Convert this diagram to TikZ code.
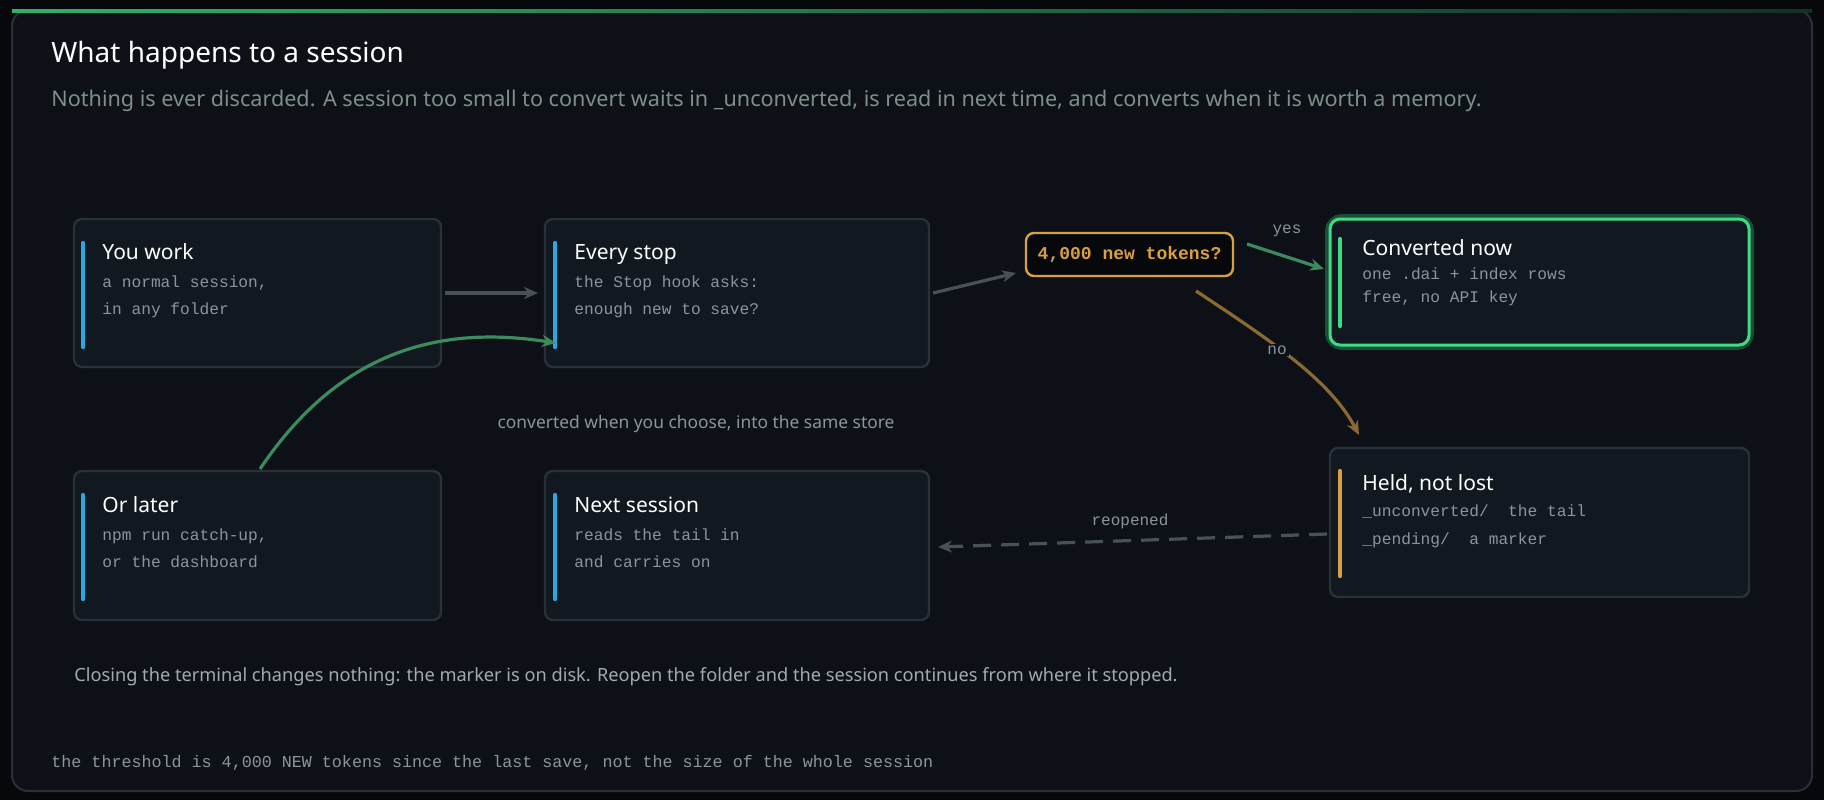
\documentclass[tikz,border=0pt]{standalone}
\usepackage{fontspec}
\setmainfont{Noto Sans}
\setmonofont{Liberation Mono}
\usetikzlibrary{arrows.meta}
\definecolor{bg}{HTML}{0D1117}
\definecolor{outer}{HTML}{06080C}
\definecolor{boxf}{HTML}{111820}
\definecolor{boxd}{HTML}{2A3038}
\definecolor{blu}{HTML}{2AA8E0}
\definecolor{grn}{HTML}{3DDC84}
\definecolor{dgrn}{HTML}{3C8A5E}
\definecolor{org}{HTML}{D9A040}
\definecolor{dorg}{HTML}{8A6A30}
\definecolor{gtxt}{HTML}{8B949E}
\definecolor{sub}{HTML}{7D8F88}
\definecolor{arr}{HTML}{48505A}
\begin{document}
\begin{tikzpicture}[x=0.5pt,y=-0.5pt,
  box/.style={draw=boxd,line width=1.2pt,fill=boxf,rounded corners=4pt},
  bar/.style={line width=2.2pt,line cap=round},
  ttl/.style={anchor=base west,inner sep=0,text=white,font=\fontsize{10.5}{12}\selectfont},
  mono/.style={anchor=base west,inner sep=0,text=gtxt,font=\ttfamily\fontsize{8.1}{10}\selectfont},
  lab/.style={inner sep=0,text=gtxt,font=\ttfamily\fontsize{8}{10}\selectfont},
  ar/.style={line width=1.6pt,-{Stealth[length=7pt,width=6pt]}}]
\useasboundingbox (0,0) rectangle (1824,800);
\fill[outer] (0,0) rectangle (1824,800);
\fill[bg,draw=boxd,line width=1pt,rounded corners=8pt] (12,10) rectangle (1812,791);
\shade[left color=grn!80!black,right color=grn!15!bg] (12,9) rectangle (1812,12);
\node[anchor=base west,inner sep=0,text=white,font=\fontsize{14}{16}\selectfont] (title) at (51,62) {What happens to a session};
\node[anchor=base west,inner sep=0,text=sub,font=\fontsize{10.8}{12}\selectfont] (subtitle) at (51,106) {Nothing is ever discarded. A session too small to convert waits in \_unconverted, is read in next time, and converts when it is worth a memory.};
% boxes
\draw[box] (74,219) rectangle (441,367);
\draw[box] (545,219) rectangle (929,367);
\draw[box] (74,471) rectangle (441,620);
\draw[box] (545,471) rectangle (929,620);
\draw[grn!30!bg,line width=5pt,rounded corners=6pt] (1330,219) rectangle (1749,345);
\draw[grn,line width=1.5pt,fill=boxf,rounded corners=5pt] (1330,219) rectangle (1749,345);
\draw[box] (1330,448) rectangle (1749,597);
\draw[bar,blu] (83,243)--(83,347);
\draw[bar,blu] (555,243)--(555,347);
\draw[bar,blu] (83,495)--(83,599);
\draw[bar,blu] (555,495)--(555,599);
\draw[bar,grn] (1340,239)--(1340,326);
\draw[bar,org] (1340,471)--(1340,576);
\node[ttl] (t1) at (102,259) {You work};
\node[mono] (m1a) at (102,287) {a normal session,};
\node[mono] (m1b) at (102,314) {in any folder};
\node[ttl] (t2) at (574,259) {Every stop};
\node[mono] (m2a) at (574,287) {the Stop hook asks:};
\node[mono] (m2b) at (574,314) {enough new to save?};
\node[ttl] (t3) at (102,512) {Or later};
\node[mono] (m3a) at (102,540) {npm run catch-up,};
\node[mono] (m3b) at (102,567) {or the dashboard};
\node[ttl] (t4) at (574,512) {Next session};
\node[mono] (m4a) at (574,540) {reads the tail in};
\node[mono] (m4b) at (574,567) {and carries on};
\node[ttl] (t5) at (1362,255) {Converted now};
\node[mono] (m5a) at (1362,279) {one .dai + index rows};
\node[mono] (m5b) at (1362,302) {free, no API key};
\node[ttl] (t6) at (1362,490) {Held, not lost};
\node[mono] (m6a) at (1362,516) {\_unconverted/~ the tail};
\node[mono] (m6b) at (1362,544) {\_pending/~ a marker};
% decision
\node[draw=org,line width=1.2pt,fill=outer,rounded corners=4pt,text=org,font=\ttfamily\bfseries\fontsize{9}{10}\selectfont,minimum width=207*0.5pt,minimum height=43*0.5pt] (dec) at (1129.5,254.5) {4,000 new tokens?};
% coordinates
\coordinate (a1s) at (445,293); \coordinate (a1e) at (538,293);
\coordinate (a2s) at (933,293); \coordinate (a2e) at (1016,273);
\coordinate (ys) at (1247,244); \coordinate (ye) at (1324,269);
\coordinate (ns) at (1196,291); \coordinate (ne) at (1359,435);
\coordinate (rs) at (1327,534); \coordinate (re) at (938,547);
\coordinate (gs) at (260,469); \coordinate (ge) at (556,343);
\draw[ar,arr] (a1s)--(a1e);
\draw[ar,arr] (a2s)--(a2e);
\draw[ar,dgrn] (ys)--(ye);
\draw[ar,dorg] (ns) .. controls (1270,340) and (1330,380) .. (ne);
\draw[ar,arr,dash pattern=on 9pt off 5pt] (rs)--(re);
\draw[ar,dgrn] (gs) .. controls (340,350) and (440,325) .. (ge);
\node[lab] (ly) at (1287,231) {yes};
\node[lab,fill=bg,inner sep=1pt] (ln) at (1277,350) {no};
\node[lab] (lr) at (1130,521) {reopened};
\node[inner sep=0,text=gtxt,font=\fontsize{8.7}{10}\selectfont] (lc) at (696,424) {converted when you choose, into the same store};
\node[anchor=base west,inner sep=0,text=gtxt!80!white,font=\fontsize{9.1}{10}\selectfont] (foot) at (74,681) {Closing the terminal changes nothing: the marker is on disk. Reopen the folder and the session continues from where it stopped.};
\node[anchor=base west,inner sep=0,text=gtxt,font=\ttfamily\fontsize{8.35}{10}\selectfont] (note) at (51,767) {the threshold is 4,000 NEW tokens since the last save, not the size of the whole session};
\end{tikzpicture}
\end{document}
